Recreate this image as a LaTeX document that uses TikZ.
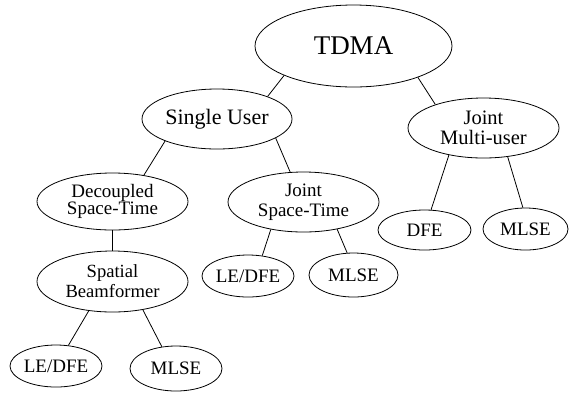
\documentclass[tikz,border=0pt]{standalone}
\usepackage{fontspec}
\setmainfont{Liberation Serif}
\usetikzlibrary{shapes.geometric}

\begin{document}
\begin{tikzpicture}[x=1pt, y=-1pt,
		oval/.style={ellipse, draw, line width=0.8pt, inner sep=0pt, align=center, font=\fontsize{19}{19}\selectfont},
		inner/.style={oval, minimum width=151pt, minimum height=60pt},
		leaf/.style={oval, minimum width=92pt, minimum height=42pt},
		link/.style={line width=0.8pt}]
			%%%%% START %%%%%
			\useasboundingbox (0, 0) rectangle (569, 392);
			
			\node[oval, minimum width=197pt, minimum height=82pt, font=\fontsize{27}{27}\selectfont] (tdma) at (353.5, 46) {TDMA};
			
			\node[inner, minimum width=150pt, font=\fontsize{22}{22}\selectfont] (single) at (217, 119) {Single User};
			\node[inner, font=\fontsize{20.5}{19.5}\selectfont] (multi) at (483.5, 128) {Joint\\Multi-user};
			
			\node[inner, minimum height=57pt, font=\fontsize{19}{17.5}\selectfont] (decoupled) at (112.5, 201.5) {Decoupled\\Space-Time};
			\node[inner, font=\fontsize{19}{19.5}\selectfont] (jointst) at (303.5, 202) {Joint\\Space-Time};
			\node[inner, minimum height=61pt, font=\fontsize{18.6}{20}\selectfont] (spatial) at (112.5, 281.5) {Spatial\\Beamformer};
			
			\node[leaf] (ledfeA) at (248, 276) {LE/DFE};
			\node[leaf, minimum width=89pt, minimum height=44pt] (mlseA) at (353.5, 275) {MLSE};
			\node[leaf, minimum width=93pt, minimum height=40pt] (dfe) at (424.5, 230) {DFE};
			\node[leaf, minimum width=85pt] (mlseB) at (525.5, 229) {MLSE};
			\node[leaf] (ledfeC) at (56, 366) {LE/DFE};
			\node[leaf, minimum height=45pt] (mlseC) at (176, 368.5) {MLSE};
			
			\draw[link] (tdma.203) -- (single.24);
			\draw[link] (tdma.334) -- (multi.154);
			
			\draw[link] (single.203) -- (decoupled.40);
			\draw[link] (single.342) -- (jointst.114);
			
			\draw[link] (decoupled.270) -- (spatial.90);
			\draw[link] (spatial.231) -- (ledfeC.59);
			\draw[link] (spatial.317) -- (mlseC.123);
			
			\draw[link] (jointst.220) -- (ledfeA.55);
			\draw[link] (jointst.321) -- (mlseA.106);
			
			\draw[link] (multi.218) -- (dfe.72);
			\draw[link] (multi.310) -- (mlseB.97);
			%%%%% END %%%%%
\end{tikzpicture}
\end{document}
